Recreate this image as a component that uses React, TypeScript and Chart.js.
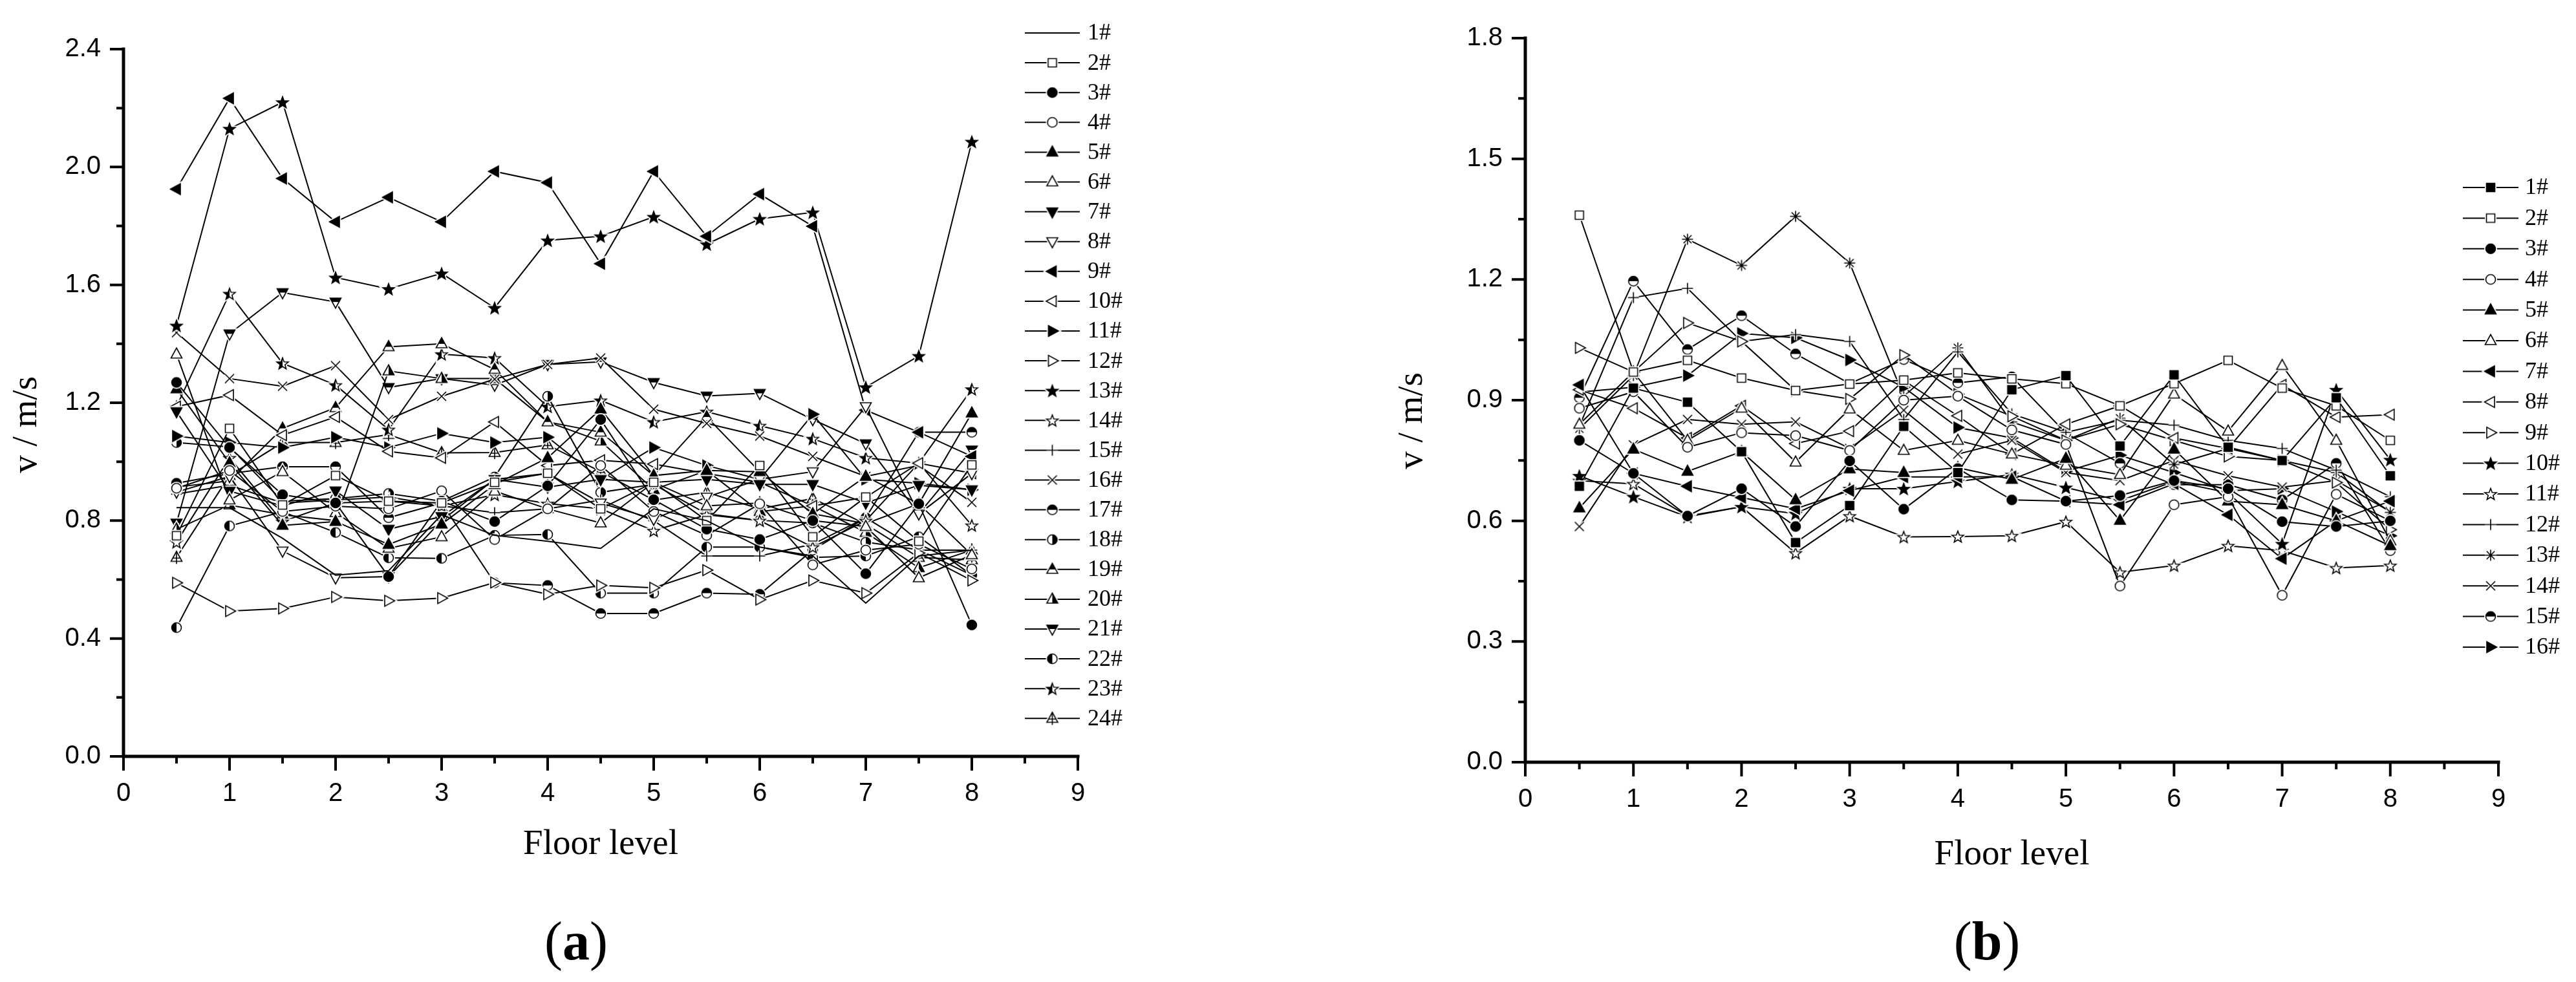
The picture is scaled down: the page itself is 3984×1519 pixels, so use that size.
import React, { useEffect, useRef } from 'react';
import { Chart, registerables } from 'chart.js';

Chart.register(...registerables);

// ---------- shared ----------
const FLOORS = [0.5, 1, 1.5, 2, 2.5, 3, 3.5, 4, 4.5, 5, 5.5, 6, 6.5, 7, 7.5, 8];
const X_MAJOR = [0, 1, 2, 3, 4, 5, 6, 7, 8, 9];
const X_MINOR = [0.5, 1.5, 2.5, 3.5, 4.5, 5.5, 6.5, 7.5, 8.5];

// ---------- panel (a) ----------
const A_Y_MAJOR = [0, 0.4, 0.8, 1.2, 1.6, 2.0, 2.4];
const A_Y_MINOR = [0.2, 0.6, 1.0, 1.4, 1.8, 2.2];
const A_LABELS = ['1#', '2#', '3#', '4#', '5#', '6#', '7#', '8#', '9#', '10#', '11#', '12#',
  '13#', '14#', '15#', '16#', '17#', '18#', '19#', '20#', '21#', '22#', '23#', '24#'];
const A_MARKERS = ['none', 'sq', 'ciF', 'ci', 'tuF', 'tu', 'tdF', 'td', 'tlF', 'tl', 'trF', 'tr',
  'stF', 'st', 'plus', 'cross', 'ciT', 'ciR', 'tuT', 'tuR', 'tdT', 'ciL', 'stL', 'tuP'];

const A01 = [0.844, 0.844, 0.74, 0.615, 0.63, 0.82, 0.75, 0.73, 0.706, 0.84, 0.80, 0.71, 0.68, 0.52, 0.68, 0.70];
const A02 = [0.749, 1.113, 0.853, 0.953, 0.866, 0.86, 0.93, 0.961, 0.84, 0.93, 0.80, 0.987, 0.745, 0.88, 0.73, 0.989];
const A03 = [1.269, 1.048, 0.888, 0.86, 0.61, 0.866, 0.797, 0.918, 1.143, 0.871, 0.771, 0.736, 0.80, 0.62, 0.857, 0.446];
const A04 = [0.91, 0.97, 0.831, 0.849, 0.84, 0.901, 0.736, 0.84, 0.987, 0.831, 0.75, 0.857, 0.65, 0.70, 0.72, 0.636];
const A05 = [1.247, 0.996, 0.784, 0.797, 0.719, 0.788, 0.922, 1.013, 1.178, 0.953, 0.97, 0.966, 0.823, 0.95, 0.857, 1.165];
const A06 = [1.365, 0.87, 0.966, 0.827, 0.706, 0.745, 0.90, 0.84, 0.792, 0.93, 0.85, 0.86, 0.80, 0.78, 0.606, 0.684];
const A07 = [1.17, 0.90, 0.85, 0.901, 0.771, 0.814, 0.94, 0.914, 0.94, 0.93, 0.94, 0.923, 0.923, 0.86, 0.92, 0.905];
const A08 = [0.897, 0.95, 0.697, 0.606, 0.61, 0.80, 0.94, 0.96, 0.86, 0.805, 0.88, 0.94, 0.966, 1.187, 0.823, 0.96];
const A09 = [1.925, 2.233, 1.961, 1.814, 1.897, 1.814, 1.985, 1.947, 1.672, 1.985, 1.765, 1.908, 1.799, 1.175, 1.10, 1.018];
const A10 = [1.187, 1.226, 1.09, 1.152, 1.035, 1.013, 1.135, 0.987, 1.005, 0.992, 0.96, 0.93, 0.85, 0.879, 0.995, 0.961];
const A11 = [1.087, 1.065, 1.048, 1.083, 1.048, 1.096, 1.065, 1.083, 0.94, 1.048, 0.987, 0.94, 1.161, 0.94, 0.927, 0.905];
const A12 = [0.589, 0.493, 0.502, 0.541, 0.528, 0.537, 0.59, 0.55, 0.58, 0.572, 0.632, 0.532, 0.597, 0.554, 0.69, 0.597];
const A13 = [1.462, 2.13, 2.22, 1.625, 1.586, 1.639, 1.522, 1.751, 1.765, 1.831, 1.738, 1.824, 1.846, 1.253, 1.359, 2.086];
const A14 = [0.727, 1.013, 0.797, 0.86, 0.866, 0.85, 0.888, 0.858, 0.84, 0.766, 0.82, 0.80, 0.71, 0.80, 0.995, 0.784];
const A15 = [0.89, 0.92, 0.86, 0.87, 0.88, 0.85, 0.827, 0.84, 0.87, 0.80, 0.68, 0.68, 0.72, 0.81, 0.70, 0.70];
const A16 = [1.438, 1.282, 1.256, 1.326, 1.143, 1.222, 1.28, 1.33, 1.352, 1.178, 1.13, 1.087, 1.018, 0.95, 0.987, 0.862];
const A17 = [0.927, 0.96, 0.983, 0.983, 0.81, 0.86, 0.589, 0.58, 0.485, 0.485, 0.554, 0.55, 0.70, 0.81, 1.10, 1.10];
const A18 = [1.065, 1.05, 0.866, 0.875, 0.892, 0.866, 0.948, 1.222, 0.896, 0.923, 0.823, 0.801, 0.792, 0.727, 0.701, 0.615];
const A19 = [0.914, 0.935, 1.113, 1.183, 1.39, 1.40, 1.313, 1.135, 1.10, 0.953, 1.152, 0.966, 0.823, 0.79, 0.857, 0.684];
const A20 = [0.771, 0.853, 0.82, 0.80, 1.308, 1.282, 1.282, 1.135, 1.07, 0.905, 0.97, 0.831, 0.85, 0.76, 0.64, 0.70];
const A21 = [0.792, 1.434, 1.574, 1.542, 1.252, 1.282, 1.26, 1.33, 1.339, 1.269, 1.223, 1.232, 1.143, 1.061, 0.823, 1.04];
const A22 = [0.437, 0.782, 0.83, 0.76, 0.674, 0.672, 0.75, 0.753, 0.554, 0.554, 0.71, 0.71, 0.675, 0.68, 0.745, 0.615];
const A23 = [1.187, 1.570, 1.334, 1.26, 1.109, 1.365, 1.352, 1.187, 1.208, 1.135, 1.17, 1.122, 1.078, 1.013, 0.995, 1.246];
const A24 = [0.675, 0.953, 1.065, 1.065, 1.092, 1.03, 1.031, 1.057, 0.966, 0.87, 0.896, 0.84, 0.875, 0.788, 0.675, 0.667];

// ---------- panel (b) ----------
const B_Y_MAJOR = [0, 0.3, 0.6, 0.9, 1.2, 1.5, 1.8];
const B_Y_MINOR = [0.15, 0.45, 0.75, 1.05, 1.35, 1.65];
const B_LABELS = ['1#', '2#', '3#', '4#', '5#', '6#', '7#', '8#', '9#', '10#', '11#', '12#',
  '13#', '14#', '15#', '16#'];
const B_MARKERS = ['sqF', 'sq', 'ciF', 'ci', 'tuF', 'tu', 'tlF', 'tl', 'tr', 'stF', 'st', 'plus',
  'ast', 'cross', 'ciT', 'trF'];

const B01 = [0.686, 0.93, 0.895, 0.772, 0.546, 0.638, 0.835, 0.72, 0.926, 0.961, 0.786, 0.963, 0.783, 0.75, 0.906, 0.712];
const B02 = [1.36, 0.97, 0.999, 0.955, 0.924, 0.94, 0.95, 0.968, 0.953, 0.941, 0.886, 0.941, 0.999, 0.93, 0.886, 0.80];
const B03 = [0.80, 0.718, 0.612, 0.68, 0.586, 0.749, 0.629, 0.73, 0.652, 0.649, 0.663, 0.70, 0.68, 0.598, 0.586, 0.60];
const B04 = [0.88, 0.921, 0.783, 0.819, 0.812, 0.775, 0.90, 0.91, 0.826, 0.79, 0.438, 0.64, 0.66, 0.415, 0.666, 0.60];
const B05 = [0.632, 0.778, 0.723, 0.772, 0.652, 0.729, 0.72, 0.732, 0.703, 0.755, 0.601, 0.778, 0.649, 0.64, 0.60, 0.538];
const B06 = [0.84, 0.97, 0.80, 0.88, 0.746, 0.878, 0.775, 0.80, 0.766, 0.738, 0.715, 0.915, 0.823, 0.986, 0.80, 0.55];
const B07 = [0.938, 0.718, 0.686, 0.658, 0.63, 0.675, 0.709, 0.709, 0.71, 0.649, 0.64, 0.692, 0.615, 0.506, 0.60, 0.649];
const B08 = [0.926, 0.88, 0.806, 0.886, 0.792, 0.823, 0.949, 0.861, 0.766, 0.84, 0.886, 0.806, 0.78, 0.938, 0.858, 0.864];
const B09 = [1.03, 0.97, 1.092, 1.046, 0.924, 0.903, 1.012, 0.915, 0.86, 0.80, 0.84, 0.80, 0.76, 0.75, 0.695, 0.578];
const B10 = [0.712, 0.66, 0.61, 0.635, 0.618, 0.68, 0.68, 0.698, 0.715, 0.683, 0.65, 0.698, 0.67, 0.543, 0.926, 0.752];
const B11 = [0.70, 0.692, 0.612, 0.635, 0.52, 0.612, 0.56, 0.561, 0.563, 0.598, 0.472, 0.489, 0.538, 0.526, 0.483, 0.489];
const B12 = [0.835, 1.155, 1.178, 1.046, 1.063, 1.046, 0.852, 1.02, 0.866, 0.82, 0.85, 0.838, 0.80, 0.78, 0.726, 0.66];
const B13 = [0.829, 0.961, 1.30, 1.235, 1.357, 1.241, 0.909, 1.03, 0.846, 0.80, 0.855, 0.74, 0.78, 0.75, 0.72, 0.621];
const B14 = [0.586, 0.789, 0.852, 0.84, 0.846, 0.78, 0.875, 0.766, 0.80, 0.72, 0.70, 0.75, 0.712, 0.684, 0.70, 0.623];
const B15 = [0.906, 1.196, 1.026, 1.11, 1.015, 0.941, 1.001, 0.943, 0.958, 0.818, 0.743, 0.69, 0.69, 0.652, 0.743, 0.526];
const B16 = [0.92, 0.932, 0.961, 1.066, 1.055, 1.0, 0.932, 0.832, 0.806, 0.723, 0.763, 0.72, 0.675, 0.68, 0.623, 0.563];

const A_SERIES = [A01, A02, A03, A04, A05, A06, A07, A08, A09, A10, A11, A12,
  A13, A14, A15, A16, A17, A18, A19, A20, A21, A22, A23, A24];
const B_SERIES = [B01, B02, B03, B04, B05, B06, B07, B08, B09, B10, B11, B12, B13, B14, B15, B16];

// ---------- marker factory ----------
function makeMarker(spec: string): HTMLCanvasElement | null {
  if (spec === 'none') return null;
  const S = 30;
  const c = S / 2;
  const cv = document.createElement('canvas');
  cv.width = S;
  cv.height = S;
  const g = cv.getContext('2d') as CanvasRenderingContext2D;
  const lineShape = spec === 'plus' || spec === 'cross' || spec === 'ast';
  const shape = lineShape ? spec : spec.slice(0, 2);
  const mod = lineShape ? '' : spec.slice(2);
  const path = () => {
    g.beginPath();
    switch (shape) {
      case 'sq': g.rect(c - 6.5, c - 6.5, 13, 13); break;
      case 'ci': g.arc(c, c, 7.5, 0, Math.PI * 2); break;
      case 'tu': g.moveTo(c, c - 9.5); g.lineTo(c + 8.5, c + 6); g.lineTo(c - 8.5, c + 6); g.closePath(); break;
      case 'td': g.moveTo(c, c + 9.5); g.lineTo(c + 8.5, c - 6); g.lineTo(c - 8.5, c - 6); g.closePath(); break;
      case 'tl': g.moveTo(c - 9.5, c); g.lineTo(c + 6, c - 8.5); g.lineTo(c + 6, c + 8.5); g.closePath(); break;
      case 'tr': g.moveTo(c + 9.5, c); g.lineTo(c - 6, c - 8.5); g.lineTo(c - 6, c + 8.5); g.closePath(); break;
      case 'st':
        for (let i = 0; i < 10; i++) {
          const r = i % 2 ? 4 : 9.5;
          const a = -Math.PI / 2 + (i * Math.PI) / 5;
          const px = c + r * Math.cos(a);
          const py = c + 1 + r * Math.sin(a);
          if (i === 0) g.moveTo(px, py); else g.lineTo(px, py);
        }
        g.closePath();
        break;
      case 'plus':
        g.moveTo(c - 8.5, c); g.lineTo(c + 8.5, c); g.moveTo(c, c - 8.5); g.lineTo(c, c + 8.5);
        break;
      case 'cross': {
        const d = 7;
        g.moveTo(c - d, c - d); g.lineTo(c + d, c + d); g.moveTo(c + d, c - d); g.lineTo(c - d, c + d);
        break;
      }
      case 'ast': {
        const d = 6.2;
        g.moveTo(c - 8.5, c); g.lineTo(c + 8.5, c); g.moveTo(c, c - 8.5); g.lineTo(c, c + 8.5);
        g.moveTo(c - d, c - d); g.lineTo(c + d, c + d); g.moveTo(c + d, c - d); g.lineTo(c - d, c + d);
        break;
      }
      default: break;
    }
  };
  // white halo gives the small gap between line and symbol
  g.strokeStyle = '#fff';
  g.lineWidth = 5;
  path();
  if (!lineShape) {
    g.fillStyle = '#fff';
    g.fill();
  }
  g.stroke();
  if (!lineShape && mod !== '' && mod !== 'P') {
    g.save();
    path();
    g.clip();
    g.fillStyle = '#000';
    if (mod === 'F') g.fillRect(0, 0, S, S);
    else if (mod === 'T') g.fillRect(0, 0, S, c);
    else if (mod === 'R') g.fillRect(c, 0, S - c, S);
    else if (mod === 'L') g.fillRect(0, 0, c, S);
    g.restore();
  }
  g.strokeStyle = '#000';
  g.lineWidth = 1.6;
  path();
  g.stroke();
  if (mod === 'P') {
    g.beginPath();
    g.moveTo(c, c - 9.5); g.lineTo(c, c + 10);
    g.moveTo(c - 5, c + 1); g.lineTo(c + 5, c + 1);
    g.stroke();
  }
  return cv;
}

// ---------- decoration plugin (axes lines, ticks, y title, legend) ----------
const decoPlugin = {
  id: 'deco',
  afterDraw(chart: any, _args: any, opts: any) {
    const ctx = chart.ctx as CanvasRenderingContext2D;
    const ca = chart.chartArea;
    const xs = chart.scales.x;
    const ys = chart.scales.y;
    ctx.save();
    ctx.strokeStyle = '#000';
    ctx.lineWidth = 5;
    ctx.lineCap = 'square';
    ctx.beginPath();
    ctx.moveTo(ca.left, ca.top);
    ctx.lineTo(ca.left, ca.bottom);
    ctx.lineTo(ca.right, ca.bottom);
    ctx.stroke();

    ctx.lineCap = 'butt';
    ctx.lineWidth = 4;
    ctx.beginPath();
    opts.xMajor.forEach((v: number) => {
      const p = xs.getPixelForValue(v);
      ctx.moveTo(p, ca.bottom); ctx.lineTo(p, ca.bottom + 22);
    });
    opts.xMinor.forEach((v: number) => {
      const p = xs.getPixelForValue(v);
      ctx.moveTo(p, ca.bottom); ctx.lineTo(p, ca.bottom + 11);
    });
    opts.yMajor.forEach((v: number) => {
      const p = ys.getPixelForValue(v);
      ctx.moveTo(ca.left, p); ctx.lineTo(ca.left - 21, p);
    });
    opts.yMinor.forEach((v: number) => {
      const p = ys.getPixelForValue(v);
      ctx.moveTo(ca.left, p); ctx.lineTo(ca.left - 11, p);
    });
    ctx.stroke();

    // y axis title
    const yt = opts.yTitle;
    ctx.save();
    ctx.translate(yt.x, yt.y);
    ctx.rotate(-Math.PI / 2);
    ctx.fillStyle = '#000';
    ctx.font = yt.font;
    ctx.textAlign = 'center';
    ctx.textBaseline = 'middle';
    ctx.fillText(yt.text, 0, 0);
    ctx.restore();

    // legend
    const L = opts.legend;
    chart.data.datasets.forEach((ds: any, i: number) => {
      const y = L.y0 + i * L.dy;
      ctx.strokeStyle = '#000';
      ctx.lineWidth = 2;
      ctx.beginPath();
      ctx.moveTo(L.x1, y);
      ctx.lineTo(L.x2, y);
      ctx.stroke();
      const ps = ds.pointStyle;
      if (ps && typeof ps === 'object') {
        ctx.drawImage(ps, (L.x1 + L.x2) / 2 - ps.width / 2, y - ps.height / 2);
      }
      ctx.fillStyle = '#000';
      ctx.font = L.font;
      ctx.textAlign = 'left';
      ctx.textBaseline = 'middle';
      ctx.fillText(ds.label, L.tx, y + 1);
    });
    ctx.restore();
  },
};

type Panel = {
  series: number[][];
  labels: string[];
  markers: string[];
  yMax: number;
  yStep: number;
  yMajor: number[];
  yMinor: number[];
  padRight: number;
  padTop: number;
  yAxisW: number;
  xAxisH: number;
  xTitlePad: number;
  yTitle: { x: number; y: number; text: string; font: string };
  legend: { x1: number; x2: number; tx: number; y0: number; dy: number; font: string };
};

function buildChart(canvas: HTMLCanvasElement, P: Panel) {
  const datasets = P.series.map((vals, i) => {
    const mk = makeMarker(P.markers[i]);
    return {
      label: P.labels[i],
      data: vals.map((v, j) => ({ x: FLOORS[j], y: v })),
      borderColor: '#000',
      backgroundColor: '#000',
      borderWidth: 2,
      tension: 0,
      fill: false,
      pointStyle: mk ? (mk as any) : false,
      pointRadius: mk ? 8 : 0,
      pointHoverRadius: mk ? 8 : 0,
    };
  });
  return new Chart(canvas, {
    type: 'line',
    data: { datasets },
    options: {
      responsive: false,
      animation: false,
      devicePixelRatio: 1,
      events: [],
      layout: { padding: { left: 0, right: P.padRight, top: P.padTop, bottom: 0 } },
      plugins: {
        legend: { display: false },
        tooltip: { enabled: false },
        deco: {
          xMajor: X_MAJOR,
          xMinor: X_MINOR,
          yMajor: P.yMajor,
          yMinor: P.yMinor,
          yTitle: P.yTitle,
          legend: P.legend,
        },
      } as any,
      scales: {
        x: {
          type: 'linear',
          min: 0,
          max: 9,
          grid: { display: false, drawTicks: false },
          border: { display: false },
          ticks: {
            stepSize: 1,
            padding: 34,
            color: '#000',
            autoSkip: false,
            maxRotation: 0,
            font: { family: 'Liberation Sans', size: 40 },
          },
          title: {
            display: true,
            text: 'Floor level',
            color: '#000',
            font: { family: 'Liberation Serif', size: 55 },
            padding: { top: 0, bottom: P.xTitlePad },
          },
          afterFit: (s: any) => { s.height = P.xAxisH; },
        },
        y: {
          type: 'linear',
          min: 0,
          max: P.yMax,
          grid: { display: false, drawTicks: false },
          border: { display: false },
          ticks: {
            stepSize: P.yStep,
            padding: 35,
            color: '#000',
            font: { family: 'Liberation Sans', size: 40 },
            callback: (v: any) => Number(v).toFixed(1),
          },
          afterFit: (s: any) => { s.width = P.yAxisW; },
        },
      } as any,
    },
    plugins: [decoPlugin as any],
  });
}

const PANEL_A: Panel = {
  series: A_SERIES,
  labels: A_LABELS,
  markers: A_MARKERS,
  yMax: 2.4,
  yStep: 0.4,
  yMajor: A_Y_MAJOR,
  yMinor: A_Y_MINOR,
  padRight: 1992 - 1667,
  padTop: 76,
  yAxisW: 191,
  xAxisH: 1519 - 1170,
  xTitlePad: 179,
  yTitle: { x: 42, y: 657, text: 'v / m/s', font: '55px "Liberation Serif"' },
  legend: { x1: 1585, x2: 1670, tx: 1682, y0: 51, dy: 46.1, font: '36px "Liberation Serif"' },
};

const PANEL_B: Panel = {
  series: B_SERIES,
  labels: B_LABELS,
  markers: B_MARKERS,
  yMax: 1.8,
  yStep: 0.3,
  yMajor: B_Y_MAJOR,
  yMinor: B_Y_MINOR,
  padRight: 1992 - 1872,
  padTop: 56,
  yAxisW: 367,
  xAxisH: 1519 - 1179,
  xTitlePad: 163,
  yTitle: { x: 193, y: 651, text: 'v / m/s', font: '55px "Liberation Serif"' },
  legend: { x1: 1817, x2: 1903, tx: 1913, y0: 290, dy: 47.4, font: '36px "Liberation Serif"' },
};

export default function App() {
  const refA = useRef<HTMLCanvasElement>(null);
  const refB = useRef<HTMLCanvasElement>(null);
  useEffect(() => {
    const a = buildChart(refA.current as HTMLCanvasElement, PANEL_A);
    const b = buildChart(refB.current as HTMLCanvasElement, PANEL_B);
    return () => {
      a.destroy();
      b.destroy();
    };
  }, []);
  const capStyle: React.CSSProperties = {
    position: 'absolute',
    top: 1414,
    transform: 'translateX(-50%)',
    fontFamily: '"Liberation Serif"',
    fontSize: 84,
    lineHeight: '84px',
    whiteSpace: 'nowrap',
    color: '#000',
  };
  return (
    <div style={{ position: 'absolute', left: 0, top: 0, width: 3984, height: 1519, background: '#fff', overflow: 'hidden' }}>
      <canvas ref={refA} width={1992} height={1519} style={{ position: 'absolute', left: 0, top: 0, width: 1992, height: 1519 }} />
      <canvas ref={refB} width={1992} height={1519} style={{ position: 'absolute', left: 1992, top: 0, width: 1992, height: 1519 }} />
      <div style={{ ...capStyle, left: 891 }}>(<b>a</b>)</div>
      <div style={{ ...capStyle, left: 3073 }}>(<b>b</b>)</div>
    </div>
  );
}
